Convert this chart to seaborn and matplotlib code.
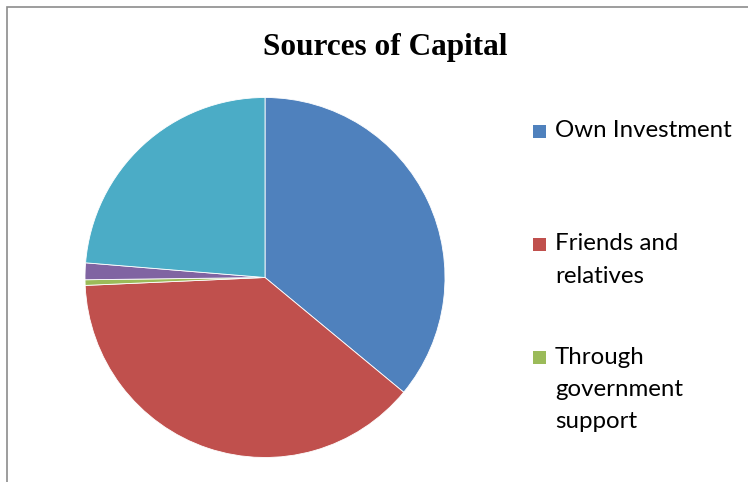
import matplotlib
matplotlib.use("Agg")
import matplotlib.pyplot as plt
from matplotlib.patches import Rectangle
import seaborn as sns

# Shares of start-up capital by source (percent)
sources = ["Own Investment", "Friends and\nrelatives", "Through\ngovernment\nsupport",
           "Bank loans", "Other sources"]
shares = [36.0, 38.3, 0.5, 1.5, 23.7]
colors = ["#4F81BD", "#C0504D", "#9BBB59", "#8064A2", "#4BACC6"]
legend_count = 3

sns.set_theme(style="white")
plt.rcParams["font.family"] = ["Lato", "DejaVu Sans"]
plt.rcParams["text.color"] = "black"

W, H = 748, 482
fig = plt.figure(figsize=(W / 100, H / 100), dpi=100)

# chart frame (continues past the right and bottom edges)
fig.patches.append(Rectangle((7 / W, -0.1), 1.2, (H - 7) / H + 0.1,
                             transform=fig.transFigure, fill=False,
                             edgecolor="#8c8c8c", linewidth=1.2))

cx, cy, r = 265, 277.5, 180
ax = fig.add_axes([(cx - r) / W, (H - cy - r) / H, 2 * r / W, 2 * r / H])
ax.pie(shares, colors=colors, startangle=90, counterclock=False,
       wedgeprops=dict(edgecolor="white", linewidth=0.6))
ax.set_xlim(-1, 1)
ax.set_ylim(-1, 1)
ax.set_aspect("equal")
ax.axis("off")

fig.text(385 / W, 1 - 47 / H, "Sources of Capital", ha="center", va="center",
         fontsize=22.5, fontweight="bold", color="black",
         family=["Liberation Serif", "DejaVu Serif"])

# legend: square marker beside the first line of each label
entry_tops = [131, 244, 357]
line_gap = 32.5
for i in range(legend_count):
    y0 = entry_tops[i]
    fig.patches.append(Rectangle((533 / W, 1 - (y0 + 6.5) / H), 13 / W, 13 / H,
                                 transform=fig.transFigure,
                                 facecolor=colors[i], edgecolor="none"))
    for j, line in enumerate(sources[i].split("\n")):
        fig.text(555 / W, 1 - (y0 + j * line_gap) / H, line, ha="left",
                 va="center", fontsize=17.3, color="black")

fig.savefig("out.png", dpi=100)
